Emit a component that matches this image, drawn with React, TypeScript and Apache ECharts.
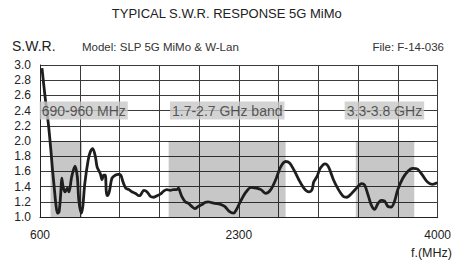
import React, { useEffect, useRef } from "react";
import * as echarts from "echarts";

const freqMHz = [617, 642, 674, 693, 707, 721, 735, 750, 763, 778, 786, 797, 814, 834, 848, 871, 899, 919, 932, 953, 966, 983, 1012, 1031, 1051, 1074, 1088, 1116, 1130, 1144, 1158, 1167, 1175, 1192, 1215, 1243, 1271, 1291, 1310, 1333, 1361, 1389, 1418, 1446, 1460, 1488, 1516, 1545, 1573, 1601, 1629, 1657, 1685, 1714, 1742, 1770, 1784, 1798, 1812, 1841, 1869, 1897, 1925, 1953, 1981, 2010, 2038, 2066, 2094, 2137, 2179, 2221, 2255, 2277, 2319, 2362, 2404, 2446, 2489, 2531, 2573, 2615, 2658, 2700, 2734, 2771, 2813, 2856, 2898, 2926, 2940, 2968, 2996, 3038, 3067, 3109, 3152, 3194, 3222, 3264, 3306, 3349, 3376, 3405, 3432, 3461, 3490, 3518, 3546, 3574, 3602, 3630, 3659, 3702, 3744, 3786, 3828, 3870, 3913, 3955, 3997];
const swr = [2.96, 2.6, 2.19, 1.88, 1.62, 1.4, 1.18, 1.05, 1.07, 1.32, 1.51, 1.4, 1.33, 1.38, 1.33, 1.53, 1.67, 1.53, 1.22, 1.05, 1.14, 1.44, 1.75, 1.86, 1.9, 1.79, 1.66, 1.57, 1.49, 1.55, 1.55, 1.33, 1.28, 1.33, 1.51, 1.55, 1.56, 1.55, 1.46, 1.38, 1.36, 1.33, 1.31, 1.28, 1.29, 1.35, 1.33, 1.27, 1.26, 1.28, 1.3, 1.34, 1.36, 1.35, 1.36, 1.36, 1.38, 1.33, 1.27, 1.2, 1.18, 1.14, 1.11, 1.14, 1.16, 1.19, 1.2, 1.19, 1.18, 1.17, 1.14, 1.07, 1.05, 1.09, 1.22, 1.33, 1.39, 1.38, 1.36, 1.31, 1.36, 1.49, 1.66, 1.73, 1.71, 1.62, 1.49, 1.38, 1.33, 1.36, 1.46, 1.53, 1.64, 1.7, 1.66, 1.49, 1.36, 1.27, 1.26, 1.31, 1.38, 1.44, 1.42, 1.29, 1.16, 1.1, 1.18, 1.22, 1.21, 1.14, 1.13, 1.2, 1.36, 1.51, 1.6, 1.64, 1.63, 1.55, 1.46, 1.43, 1.45];

const bandNames = ["690-960 MHz", "1.7-2.7 GHz band", "3.3-3.8 GHz"];
const bandStart = [690, 1700, 3300];
const bandEnd = [960, 2700, 3800];
const bandTop = 2.0;
const bandLabelFreq = [974, 2201, 3545];
const bandLabelLevel = 2.4;

const xTickLabels = [600, 2300, 4000];
const freqMin = 600;
const freqMax = 4000;
const freqStep = 340;

export default function App() {
  const ref = useRef<HTMLDivElement>(null);
  useEffect(() => {
    if (!ref.current) return;
    const chart = echarts.init(ref.current, null, { renderer: "svg" });
    const font = "'Liberation Sans', Arial, sans-serif";
    const data = freqMHz.map((f, i) => [f - freqMin, swr[i]]);
    chart.setOption({
      animation: false,
      textStyle: { fontFamily: font },
      grid: { left: 40, right: 12, top: 65, bottom: 43 },
      xAxis: {
        type: "value",
        min: 0,
        max: freqMax - freqMin,
        interval: freqStep,
        axisLine: { show: true, lineStyle: { color: "#222", width: 1 } },
        axisTick: { show: false },
        splitLine: { show: true, lineStyle: { color: "#3a3a3a", width: 1 } },
        axisLabel: {
          color: "#222",
          fontSize: 12,
          margin: 12,
          showMaxLabel: true,
          formatter: (v: number) =>
            xTickLabels.indexOf(Math.round(v) + freqMin) >= 0 ? String(Math.round(v) + freqMin) : "",
        },
      },
      yAxis: {
        type: "value",
        min: 1,
        max: 3,
        interval: 0.2,
        axisLine: { show: true, lineStyle: { color: "#222", width: 1 } },
        axisTick: { show: false },
        splitLine: { show: true, lineStyle: { color: "#3a3a3a", width: 1 } },
        axisLabel: {
          color: "#222",
          fontSize: 12,
          margin: 9,
          formatter: (v: number) => v.toFixed(1),
        },
      },
      graphic: [
        {
          type: "text",
          left: "center",
          top: 7,
          style: { text: "TYPICAL S.W.R. RESPONSE 5G MiMo", fontSize: 13, fill: "#222", fontFamily: font },
        },
        {
          type: "text",
          left: 12,
          top: 39,
          style: { text: "S.W.R.", fontSize: 14, fill: "#222", fontFamily: font },
        },
        {
          type: "text",
          left: 82,
          top: 41,
          style: { text: "Model: SLP 5G MiMo & W-Lan", fontSize: 11.5, fill: "#333", fontFamily: font },
        },
        {
          type: "text",
          right: 10,
          top: 41,
          style: { text: "File: F-14-036", fontSize: 11.5, fill: "#333", fontFamily: font },
        },
        {
          type: "text",
          left: 411,
          top: 246,
          style: { text: "f.(MHz)", fontSize: 12.5, fill: "#222", fontFamily: font },
        },
      ],
      series: [
        {
          type: "line",
          data,
          symbol: "none",
          smooth: 0.3,
          lineStyle: { color: "#1e1e1e", width: 2.8 },
          z: 5,
          markArea: {
            silent: true,
            itemStyle: { color: "rgba(0,0,0,0.22)" },
            data: bandStart.map((s, i) => [
              { xAxis: s - freqMin, yAxis: 1 },
              { xAxis: bandEnd[i] - freqMin, yAxis: bandTop },
            ]),
          },
        },
        {
          type: "scatter",
          z: 10,
          symbolSize: 0,
          silent: true,
          data: bandNames.map((n, i) => ({
            value: [bandLabelFreq[i] - freqMin, bandLabelLevel],
            name: n,
          })),
          label: {
            show: true,
            position: "inside",
            formatter: (p: any) => p.name,
            fontSize: 14,
            color: "#333",
            backgroundColor: "#c8c8c8",
            padding: [1, 2],
            lineHeight: 16,
            fontFamily: font,
          },
        },
      ],
    });
    return () => chart.dispose();
  }, []);
  return <div ref={ref} style={{ width: 454, height: 260, position: "absolute", left: 0, top: 0 }} />;
}
